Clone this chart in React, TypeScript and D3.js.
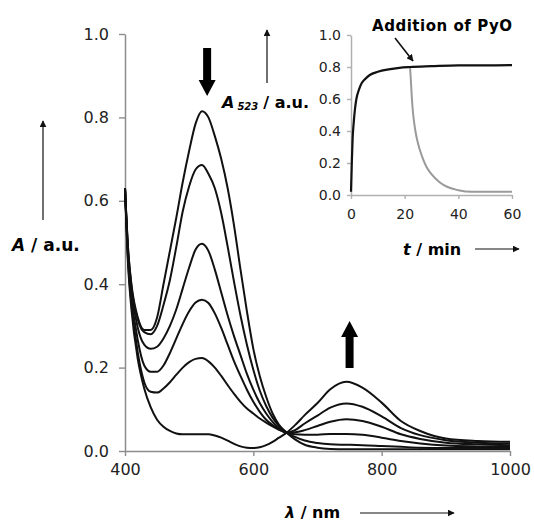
import * as d3 from 'd3'
import React, { useRef, useEffect } from 'react'

// wavelength grid (nm) shared by all spectra
const wavelengths = [400, 405, 410, 420, 430, 440, 450, 460, 470, 480, 490, 500, 510, 520, 530, 540, 550, 560, 570, 580, 590, 600, 610, 620, 630, 640, 652, 665, 680, 700, 720, 745, 770, 800, 830, 860, 900, 950, 1000]

// absorbance of each spectrum
const spec1 = [0.63, 0.48, 0.40, 0.32, 0.29, 0.29, 0.32, 0.40, 0.48, 0.56, 0.645, 0.72, 0.785, 0.815, 0.80, 0.755, 0.70, 0.63, 0.54, 0.435, 0.335, 0.245, 0.18, 0.13, 0.09, 0.063, 0.044, 0.028, 0.015, 0.008, 0.005, 0.004, 0.004, 0.004, 0.004, 0.004, 0.004, 0.004, 0.004]
const spec2 = [0.63, 0.48, 0.395, 0.315, 0.285, 0.28, 0.30, 0.35, 0.41, 0.49, 0.575, 0.635, 0.675, 0.686, 0.665, 0.63, 0.57, 0.49, 0.405, 0.325, 0.255, 0.195, 0.145, 0.108, 0.08, 0.06, 0.044, 0.034, 0.025, 0.019, 0.016, 0.015, 0.014, 0.012, 0.01, 0.008, 0.007, 0.007, 0.007]
const spec3 = [0.63, 0.47, 0.385, 0.295, 0.255, 0.245, 0.25, 0.27, 0.30, 0.34, 0.39, 0.44, 0.483, 0.497, 0.48, 0.435, 0.38, 0.325, 0.275, 0.23, 0.185, 0.147, 0.115, 0.09, 0.07, 0.055, 0.044, 0.04, 0.039, 0.039, 0.041, 0.041, 0.039, 0.032, 0.024, 0.018, 0.013, 0.011, 0.01]
const spec4 = [0.63, 0.46, 0.37, 0.265, 0.205, 0.19, 0.19, 0.205, 0.235, 0.27, 0.305, 0.335, 0.356, 0.363, 0.355, 0.33, 0.295, 0.255, 0.215, 0.18, 0.147, 0.118, 0.094, 0.075, 0.062, 0.052, 0.044, 0.045, 0.05, 0.06, 0.07, 0.076, 0.072, 0.058, 0.04, 0.029, 0.02, 0.016, 0.014]
const spec5 = [0.63, 0.45, 0.355, 0.235, 0.165, 0.142, 0.14, 0.15, 0.165, 0.183, 0.20, 0.213, 0.221, 0.223, 0.215, 0.20, 0.18, 0.158, 0.137, 0.118, 0.102, 0.09, 0.078, 0.068, 0.059, 0.051, 0.044, 0.05, 0.066, 0.085, 0.104, 0.114, 0.106, 0.083, 0.055, 0.038, 0.026, 0.02, 0.018]
const spec6 = [0.63, 0.44, 0.34, 0.22, 0.15, 0.105, 0.075, 0.058, 0.048, 0.042, 0.04, 0.04, 0.04, 0.04, 0.04, 0.037, 0.032, 0.025, 0.017, 0.011, 0.008, 0.007, 0.009, 0.014, 0.022, 0.032, 0.044, 0.062, 0.086, 0.115, 0.148, 0.166, 0.152, 0.116, 0.072, 0.048, 0.03, 0.024, 0.022]
const spectra = [spec1, spec2, spec3, spec4, spec5, spec6]

// inset: A523 vs time
const riseTime = [0, 0.3, 0.6, 1, 1.5, 2, 3, 4, 5, 7, 10, 14, 18, 22, 30, 40, 50, 60]
const riseA = [0.02, 0.2, 0.35, 0.45, 0.54, 0.6, 0.66, 0.7, 0.72, 0.75, 0.77, 0.785, 0.795, 0.80, 0.805, 0.81, 0.81, 0.812]
const decayTime = [22, 22.3, 22.7, 23.2, 24, 25, 26.5, 28, 30, 33, 36, 40, 45, 50, 60]
const decayA = [0.80, 0.72, 0.6, 0.5, 0.4, 0.32, 0.24, 0.18, 0.13, 0.08, 0.05, 0.03, 0.02, 0.02, 0.02]

const yTicks = [0, 0.2, 0.4, 0.6, 0.8, 1.0]
const xTicks = [400, 600, 800, 1000]
const tTicks = [0, 20, 40, 60]

const font = '"DejaVu Sans", sans-serif'

export default function App() {
    const ref = useRef(null)

    useEffect(() => {
        d3.select(ref.current).selectAll('*').remove()
        const svg = d3.select(ref.current)

        svg.append('defs').append('marker')
            .attr('id', 'head')
            .attr('viewBox', '0 0 10 10')
            .attr('refX', 9).attr('refY', 5)
            .attr('markerWidth', 7).attr('markerHeight', 7)
            .attr('markerUnits', 'userSpaceOnUse')
            .attr('orient', 'auto')
            .append('path').attr('d', 'M0,0 L10,5 L0,10 z').attr('fill', '#111')

        // main plot
        const x = d3.scaleLinear().domain([400, 1000]).range([125, 510])
        const y = d3.scaleLinear().domain([0, 1]).range([451, 34])

        const styleAxis = (g, size, color) => {
            g.select('.domain').attr('stroke', color).attr('stroke-width', 1.5)
            g.selectAll('.tick line').attr('stroke', color).attr('stroke-width', 1.4)
            g.selectAll('.tick text').attr('fill', '#222').style('font-family', font).style('font-size', size + 'px')
        }

        svg.append('g')
            .attr('transform', 'translate(0,' + y(0) + ')')
            .call(d3.axisBottom(x).tickValues(xTicks).tickSize(5).tickSizeOuter(0).tickPadding(8).tickFormat(d3.format('d')))
            .call(g => styleAxis(g, 16, '#8c8c8c'))

        svg.append('g')
            .attr('transform', 'translate(' + x(400) + ',0)')
            .call(d3.axisLeft(y).tickValues(yTicks).tickSize(6).tickSizeOuter(0).tickPadding(10).tickFormat(d3.format('.1f')))
            .call(g => styleAxis(g, 16, '#8c8c8c'))

        const line = d3.line()
            .x((d, i) => x(wavelengths[i]))
            .y(d => y(d))
            .curve(d3.curveMonotoneX)

        svg.append('g').selectAll('path')
            .data(spectra)
            .join('path')
            .attr('d', d => line(d))
            .attr('fill', 'none')
            .attr('stroke', '#111')
            .attr('stroke-width', 2)

        // big arrows
        const bigArrow = (cx, tipY, baseY) => {
            const dir = tipY > baseY ? 1 : -1
            const headLen = 16
            const neck = tipY - dir * headLen
            svg.append('path')
                .attr('d', `M${cx - 4},${baseY} L${cx + 4},${baseY} L${cx + 4},${neck} L${cx + 8.5},${neck} L${cx},${tipY} L${cx - 8.5},${neck} L${cx - 4},${neck} Z`)
                .attr('fill', '#000')
        }
        bigArrow(x(528), 96, 48)
        bigArrow(x(750), 321, 368)

        // axis titles
        const yTitle = svg.append('text').attr('x', 12).attr('y', 251)
            .style('font-family', font).style('font-size', '17px').style('font-weight', 'bold')
        yTitle.append('tspan').style('font-style', 'italic').text('A')
        yTitle.append('tspan').text(' / a.u.')
        svg.append('line').attr('x1', 43).attr('x2', 43).attr('y1', 220).attr('y2', 121)
            .attr('stroke', '#111').attr('stroke-width', 1.2).attr('marker-end', 'url(#head)')

        const xTitle = svg.append('text').attr('x', 285).attr('y', 518)
            .style('font-family', font).style('font-size', '16px').style('font-weight', 'bold')
        xTitle.append('tspan').style('font-style', 'italic').text('λ')
        xTitle.append('tspan').text(' / nm')
        svg.append('line').attr('x1', 360).attr('x2', 454).attr('y1', 513).attr('y2', 513)
            .attr('stroke', '#111').attr('stroke-width', 1.2).attr('marker-end', 'url(#head)')

        // inset
        const tx = d3.scaleLinear().domain([0, 60]).range([351, 512])
        const ty = d3.scaleLinear().domain([0, 1]).range([195, 35])

        svg.append('g')
            .attr('transform', 'translate(0,' + ty(0) + ')')
            .call(d3.axisBottom(tx).tickValues(tTicks).tickSize(4).tickSizeOuter(0).tickPadding(10).tickFormat(d3.format('d')))
            .call(g => styleAxis(g, 14, '#b0b0b0'))
        svg.append('g')
            .attr('transform', 'translate(' + tx(0) + ',0)')
            .call(d3.axisLeft(ty).tickValues(yTicks).tickSize(4).tickSizeOuter(0).tickPadding(6).tickFormat(d3.format('.1f')))
            .call(g => styleAxis(g, 14, '#b0b0b0'))

        const tLine = d3.line()
            .x(d => tx(d[0]))
            .y(d => ty(d[1]))
            .curve(d3.curveMonotoneX)

        svg.append('path')
            .attr('d', tLine(decayTime.map((t, i) => [t, decayA[i]])))
            .attr('fill', 'none').attr('stroke', '#9a9a9a').attr('stroke-width', 2)
        svg.append('path')
            .attr('d', tLine(riseTime.map((t, i) => [t, riseA[i]])))
            .attr('fill', 'none').attr('stroke', '#111').attr('stroke-width', 2.2)

        const a523 = svg.append('text').attr('x', 222).attr('y', 108)
            .style('font-family', font).style('font-size', '16px').style('font-weight', 'bold')
        a523.append('tspan').style('font-style', 'italic').text('A')
        a523.append('tspan').attr('dx', 3).attr('dy', 2).style('font-style', 'italic').style('font-size', '10px').text('523')
        a523.append('tspan').attr('dx', 5).attr('dy', -2).text('/ a.u.')
        svg.append('line').attr('x1', 267).attr('x2', 267).attr('y1', 83).attr('y2', 30)
            .attr('stroke', '#111').attr('stroke-width', 1.2).attr('marker-end', 'url(#head)')

        const tTitle = svg.append('text').attr('x', 403).attr('y', 255)
            .style('font-family', font).style('font-size', '16px').style('font-weight', 'bold')
        tTitle.append('tspan').style('font-style', 'italic').text('t')
        tTitle.append('tspan').text(' / min')
        svg.append('line').attr('x1', 475).attr('x2', 519).attr('y1', 249).attr('y2', 249)
            .attr('stroke', '#111').attr('stroke-width', 1.2).attr('marker-end', 'url(#head)')

        svg.append('text').attr('x', 372).attr('y', 31)
            .attr('textLength', 140)
            .style('font-family', font).style('font-size', '15px').style('font-weight', 'bold')
            .text('Addition of PyO')
        svg.append('line').attr('x1', 395).attr('y1', 38).attr('x2', 413).attr('y2', 61)
            .attr('stroke', '#111').attr('stroke-width', 1.6).attr('marker-end', 'url(#head)')
    }, [])

    return (
        <svg ref={ref} width={534} height={524}
            style={{ position: 'absolute', left: 0, top: 0, background: '#fff' }} />
    )
}
